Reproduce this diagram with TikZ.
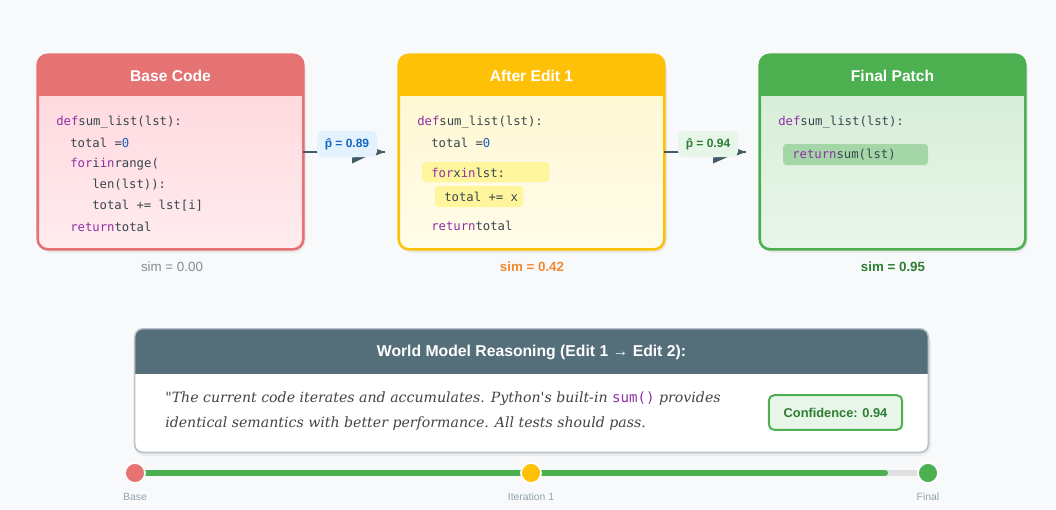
\documentclass[tikz,border=0pt]{standalone}
\usepackage{fontspec}
\setmainfont{Liberation Sans}
\setmonofont{DejaVu Sans Mono}
\newfontfamily\quotefont{DejaVu Serif}
\usetikzlibrary{calc}

\definecolor{pagebg}{HTML}{F8F9FB}
\definecolor{redc}{HTML}{E57373}
\definecolor{redtop}{HTML}{FFD6DC}
\definecolor{redbot}{HTML}{FFEBEE}
\definecolor{orangec}{HTML}{FFC107}
\definecolor{orangetop}{HTML}{FFF7CF}
\definecolor{orangebot}{HTML}{FFFCE9}
\definecolor{greenc}{HTML}{4CAF50}
\definecolor{greentop}{HTML}{D3ECD5}
\definecolor{greenbot}{HTML}{E9F5EA}
\definecolor{kw}{HTML}{8E30A8}
\definecolor{num}{HTML}{1E5FBF}
\definecolor{codegray}{HTML}{37474F}
\definecolor{slate}{HTML}{455A64}
\definecolor{slatehead}{HTML}{546E7A}
\definecolor{hlyellow}{HTML}{FFF59D}
\definecolor{hlgreen}{HTML}{A5D6A7}
\definecolor{darkgreen}{HTML}{2E7D32}
\definecolor{bluelab}{HTML}{1565C0}
\definecolor{bluebg}{HTML}{E3F2FD}
\definecolor{greenbg}{HTML}{E8F5E9}
\definecolor{simorange}{HTML}{F0882E}
\definecolor{simgray}{HTML}{7F8C95}
\definecolor{tickgray}{HTML}{90A4AE}
\definecolor{trackgray}{HTML}{E0E0E0}
\definecolor{panelborder}{HTML}{B8C4CA}
\definecolor{quotegray}{HTML}{444444}

\newcommand\kw[1]{\textcolor{kw}{#1}}
\newcommand\num[1]{\textcolor{num}{#1}}

% card: name, left x, right x, accent, body top colour, body bottom colour, title
\newcommand\codecard[7]{%
  \node[minimum width={(#3-#2)*0.75pt}, minimum height={194*0.75pt}, inner sep=0pt] (#1) at ({(#2+#3)/2},152) {};
  \fill[black, opacity=0.05, rounded corners=9pt] (#2+1,58) rectangle (#3+3,253);
  \fill[black, opacity=0.05, rounded corners=9pt] (#2-1,57) rectangle (#3+2,251);
  \shade[top color=#5, bottom color=#6, rounded corners=7.5pt] (#1.north west) rectangle (#1.south east);
  \begin{scope}
    \clip (#1.north west) rectangle (#3,95);
    \fill[#4, rounded corners=7.5pt] (#1.north west) rectangle (#3,110);
  \end{scope}
  \draw[#4, line width=1.9pt, rounded corners=7.5pt] (#1.north west) rectangle (#1.south east);
  \node[cardtitle] (#1-title) at ({(#2+#3)/2},76) {#7};
}

\begin{document}
\begin{tikzpicture}[x=0.75pt, y=-0.75pt,
  cardtitle/.style={text=white, font=\fontsize{11.7}{13}\selectfont\bfseries},
  code/.style={anchor=west, inner sep=0pt, text=codegray, font=\fontsize{9.2}{11}\selectfont\ttfamily},
  hlbox/.style={rounded corners=2.5pt},
  simlabel/.style={font=\fontsize{10}{12}\selectfont},
  plabel/.style={rounded corners=4pt, inner xsep=5pt, minimum height=19.5pt, minimum width=45pt, font=\fontsize{9}{11}\selectfont\bfseries},
  flow/.style={draw=slate, line width=1.9pt},
  wedge/.style={fill=slate},
  dot/.style={circle, minimum size=15pt, inner sep=0pt, draw=white, line width=1.3pt},
  ticklabel/.style={text=tickgray, font=\fontsize{7.8}{9}\selectfont}
]
\useasboundingbox (0,0) rectangle (1056,510);
\fill[pagebg] (0,0) rectangle (1056,510);

% ---------- the three code cards ----------
\codecard{base}{38}{303}{redc}{redtop}{redbot}{Base Code}
\codecard{edit}{399}{664}{orangec}{orangetop}{orangebot}{After Edit 1}
\codecard{final}{760}{1025}{greenc}{greentop}{greenbot}{Final Patch}

% base code listing
\node[code] (b1) at (56,122) {\kw{def}sum\_list(lst):};
\node[code] (b2) at (70,143) {total =\num{0}};
\node[code] (b3) at (70,164) {\kw{for}i\kw{in}range(};
\node[code] (b4) at (92,185) {len(lst)):};
\node[code] (b5) at (92,206) {total += lst[i]};
\node[code] (b6) at (70,227) {\kw{return}total};

% after edit 1 listing
\fill[hlyellow, hlbox] (422,162) rectangle (549,182);
\fill[hlyellow, hlbox] (435,186) rectangle (523,207);
\node[code] (e1) at (417,122) {\kw{def}sum\_list(lst):};
\node[code] (e2) at (431,143) {total =\num{0}};
\node[code] (e3) at (431,173) {\kw{for}x\kw{in}lst:};
\node[code] (e4) at (444,197) {total += x};
\node[code] (e5) at (431,226) {\kw{return}total};

% final patch listing
\fill[hlgreen, hlbox] (783,144) rectangle (928,165);
\node[code] (f1) at (778,122) {\kw{def}sum\_list(lst):};
\node[code] (f2) at (792,155) {\kw{return}sum(lst)};

% similarity scores
\node[simlabel, text=simgray] (simb) at (172,267) {sim = 0.00};
\node[simlabel, text=simorange, font=\fontsize{10}{12}\selectfont\bfseries] (sime) at (532,267) {sim = 0.42};
\node[simlabel, text=darkgreen, font=\fontsize{10}{12}\selectfont\bfseries] (simf) at (893,267) {sim = 0.95};

% ---------- transitions between cards ----------
\coordinate (a1end) at ($(edit.west)+(-14,0)$);
\coordinate (a2end) at ($(final.west)+(-14,0)$);
\draw[flow] (base.east) -- (a1end);
\draw[flow] (edit.east) -- (a2end);
\fill[wedge] ($(a1end)+(-9,-3.5)$) -- (a1end) -- ($(a1end)+(-9,3.5)$) -- cycle;
\fill[wedge] ($(a2end)+(-9,-3.5)$) -- (a2end) -- ($(a2end)+(-9,3.5)$) -- cycle;
\fill[wedge] (352,157.5) -- (369,155.5) -- (352,163.5) -- cycle;
\fill[wedge] (713,157.5) -- (731,155.5) -- (713,163.5) -- cycle;
\node[plabel, fill=bluebg, text=bluelab] (p1) at (347,144) {p̂ = 0.89};
\node[plabel, fill=greenbg, text=darkgreen] (p2) at (708,144) {p̂ = 0.94};

% ---------- reasoning panel ----------
\node[minimum width={793*0.75pt}, minimum height={123*0.75pt}, inner sep=0pt] (panel) at (531.5,390.5) {};
\fill[black, opacity=0.05, rounded corners=8pt] (134,332) rectangle (931,456);
\fill[black, opacity=0.05, rounded corners=8pt] (133,330) rectangle (930,454);
\fill[white, rounded corners=6pt] (panel.north west) rectangle (panel.south east);
\begin{scope}
  \clip (panel.north west) rectangle (928,373);
  \fill[slatehead, rounded corners=6pt] (panel.north west) rectangle (928,390);
\end{scope}
\draw[panelborder, line width=1.1pt, rounded corners=6pt] (panel.north west) rectangle (panel.south east);
\node[cardtitle, font=\fontsize{11.8}{13}\selectfont\bfseries] (ptitle) at (531.5,352) {World Model Reasoning (Edit 1 → Edit 2):};
\node[anchor=west, inner sep=0pt, text=quotegray, font=\fontsize{10.6}{13}\selectfont\quotefont\itshape] (q1) at (165,399)
  {"The current code iterates and accumulates. Python's built-in \textcolor{kw}{\upshape\ttfamily sum()} provides};
\node[anchor=west, inner sep=0pt, text=quotegray, font=\fontsize{10.6}{13}\selectfont\quotefont\itshape] (q2) at (165,424)
  {identical semantics with better performance. All tests should pass.};
\node[draw=greenc, fill=greenbg, line width=1.5pt, rounded corners=4pt, minimum width=100pt, minimum height=26pt, text=darkgreen, font=\fontsize{9.6}{11}\selectfont\bfseries] (conf) at (835.5,412.5) {Confidence: 0.94};

% ---------- progress timeline ----------
\coordinate (tl0) at (135,473);
\coordinate (tl1) at (531,473);
\coordinate (tl2) at (928,473);
\coordinate (tlfill) at (885,473);
\draw[trackgray, line width=4.5pt, line cap=round] (tl0) -- (tl2);
\draw[greenc, line width=4.5pt, line cap=round] (tl0) -- (tlfill);
\node[dot, fill=redc] (dbase) at (tl0) {};
\node[dot, fill=orangec] (diter) at (tl1) {};
\node[dot, fill=greenc] (dfinal) at (tl2) {};
\node[ticklabel] (lbase) at (135,497) {Base};
\node[ticklabel] (liter) at (531,497) {Iteration 1};
\node[ticklabel] (lfinal) at (928,497) {Final};
\end{tikzpicture}
\end{document}
